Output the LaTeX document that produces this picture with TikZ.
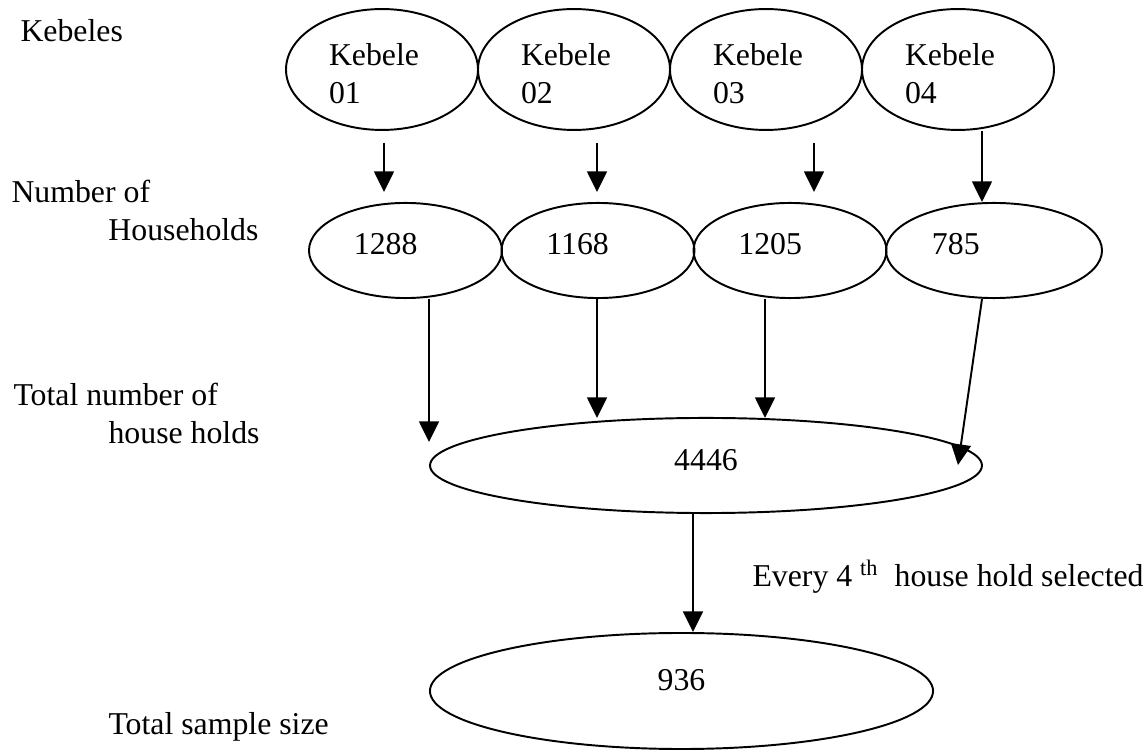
\documentclass[tikz,border=0pt]{standalone}
\usepackage{fontspec}
\setmainfont{Liberation Serif}
\usetikzlibrary{shapes.geometric,arrows.meta,calc}

\begin{document}
\begin{tikzpicture}[x=0.387pt, y=-0.387pt,
	every node/.style={font=\fontsize{12.3pt}{14.6pt}\selectfont, inner sep=0pt},
	ell/.style={draw, ellipse, line width=0.75pt},
	arr/.style={line width=0.75pt, -{Triangle[length=8pt,width=7.7pt]}}]
		
		\useasboundingbox (0,0) rectangle (1144,752);
		
		% Row labels
		\node [anchor=base west] (lk) at (20,42) {Kebeles};
		\node [anchor=north west,
		align=left] (lh) at (11,180) {Number of\\\hspace*{37.5pt}Households};
		\node [anchor=north west,
		align=left] (lt) at (13,383) {Total number of\\\hspace*{36.8pt}house holds};
		\node [anchor=base west] (ls) at (108,735) {Total sample size};
		
		% Kebeles
		\foreach \i/\x in {1/382,2/574,3/766,4/958}{
			\node [ell,
			minimum width=74.3pt,
			minimum height=46.8pt,
			text width=41pt,
			align=left] (k\i) at (\x,69.5) {\rule{0pt}{12pt}Kebele\\0\i};
		}
		
		% Households per kebele
		\foreach \i/\x/\w/\tw/\n in {1/405.5/74.7/39.9/1288,2/598/74.7/39.9/1168,3/790/74.7/39.9/1205,4/994/83.6/48/785}{
			\node [ell,
			minimum width=\w pt,
			minimum height=36.8pt,
			text width=\tw pt,
			text depth=4.8pt,
			align=left] (h\i) at (\x,250.5) {\n};
		}
		
		% Total households
		\node [ell,
		minimum width=213.6pt,
		minimum height=36.8pt,
		text depth=4.6pt] (tot) at (706,465.5) {4446};
		
		% Sample
		\node [ell,
		minimum width=194.7pt,
		minimum height=44.9pt,
		text depth=8.9pt] (smp) at (681.5,691) {936};
		
		\node [anchor=base west] (sel) at (752,587) {Every 4 \textsuperscript{th}\ \ house hold selected};
		
		% Arrows kebele -> households
		\foreach \i/\x in {1/384,2/597,3/814}{
			\coordinate (a\i) at (\x,143);
			\coordinate (b\i) at (\x,192);
			\draw [arr] (a\i) -- (b\i);
		}
		\draw [arr] ($(k4.south)+(24,0)$) -- ($(h4.north)+(-12,0)$);
		
		% Arrows households -> total
		\coordinate (e1) at (429,442);
		\coordinate (e2) at (597,418);
		\coordinate (e3) at (765,418);
		\coordinate (e4) at (958,465);
		\draw [arr] (h1.south -| e1) -- (e1);
		\draw [arr] (h2.south -| e2) -- (e2);
		\draw [arr] (h3.south -| e3) -- (e3);
		\draw [arr] ($(h4.south)+(-12,0)$) -- (e4);
		
		% Selection
		\draw [arr] ($(tot.south)+(-13,0)$) -- ($(smp.north)+(11.5,0)$);
		
	\end{tikzpicture}
\end{document}
